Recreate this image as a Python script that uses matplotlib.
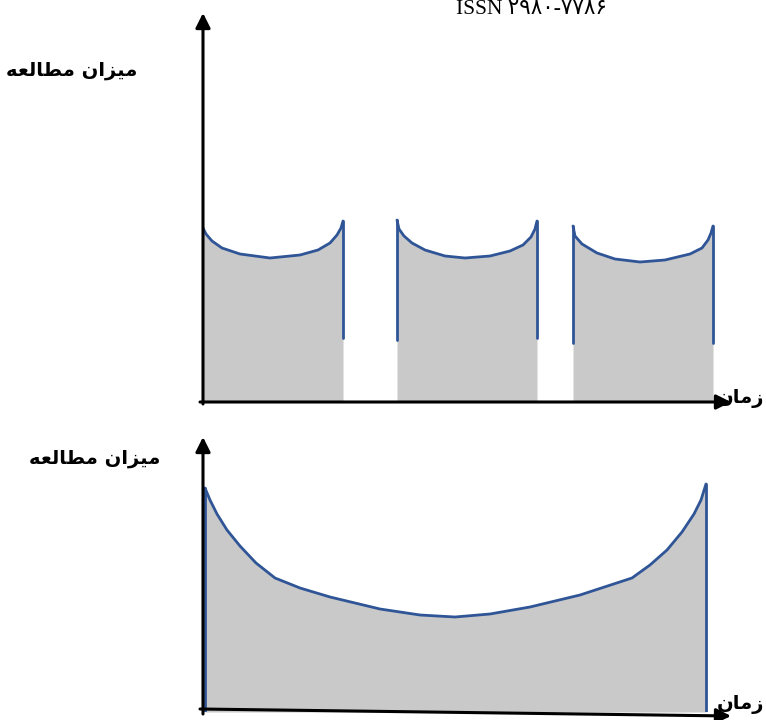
import matplotlib
matplotlib.use("Agg")
import matplotlib.pyplot as plt

W, H = 766, 720

# reading level over time, three short study sessions (top panel)
s1_t = [0, 0.6, 1.8, 3.8, 7.4, 13.4, 19.4, 23, 25.4, 26.8, 27.6, 28]
s1_v = [34.8, 33.6, 32.2, 30.8, 29.6, 28.8, 29.4, 30.4, 31.8, 33.4, 34.8, 36.2]
s2_t = [38.8, 39.2, 40.2, 41.8, 44.4, 48.4, 52.4, 57.4, 61.4, 64, 65.6, 66.4, 66.8]
s2_v = [36.4, 34.6, 33.2, 31.8, 30.4, 29.2, 28.8, 29.2, 30.2, 31.4, 33, 34.6, 36.2]
s3_t = [74, 74.4, 75.8, 78.8, 82.4, 87.4, 92.4, 97.4, 99.8, 101, 101.6, 102]
s3_v = [35.2, 33.2, 31.6, 29.8, 28.6, 28, 28.4, 29.6, 30.8, 32.4, 33.8, 35.2]
# where the blue side edges stop (value at the lower end)
s_edge_low = [(None, 12.8), (12.4, 12.8), (11.8, 11.8)]

# one long session (bottom panel)
long_t = [0.4, 1.4, 2.8, 4.8, 7.4, 10.6, 14.4, 19.4, 25.4, 35.4, 43.4, 50.4,
          57.4, 65.4, 75.4, 85.8, 89.4, 92.8, 95.8, 98.2, 99.6, 100.6]
long_v = [44.8, 42.4, 39.6, 36.4, 33.2, 29.8, 26.8, 24.8, 23, 20.6, 19.4, 19,
          19.6, 21, 23.4, 26.8, 29.4, 32.4, 36, 39.6, 42.4, 45.6]

y_label = "\uFEEA\uFECC\uFEDF\uFE8E\uFEC4\uFEE3 \uFEE5\uFE8D\uFEB0\uFEF4\uFEE3"   # میزان مطالعه
x_label = "\uFEE5\uFE8E\uFEE3\uFEAF"   # زمان
header = "ISSN \u06f2\u06f9\u06f8\u06f0-\u06f7\u06f7\u06f8\u06f6"

BLUE = "#2f5597"
GREY = "#c9c9c9"
fa = "DejaVu Sans"


def panel(fig, left, bottom, right, top):
    # axes placed in pixel units, 5 px per data unit
    ax = fig.add_axes([left / W, (H - bottom) / H, (right - left) / W, (bottom - top) / H])
    ax.set_xlim(0, (right - left) / 5)
    ax.set_ylim(0, (bottom - top) / 5)
    ax.axis("off")
    return ax


def arrow(ax, start, tip):
    ax.annotate("", xy=tip, xytext=start, annotation_clip=False,
                arrowprops=dict(arrowstyle="-|>", lw=2.2, color="black",
                                mutation_scale=22, shrinkA=0, shrinkB=0))


def blue(ax, x, y):
    ax.plot(x, y, color=BLUE, lw=2, zorder=2,
            solid_capstyle="round", solid_joinstyle="round")


fig = plt.figure(figsize=(W / 100, H / 100), dpi=100)

# ---- top panel
ax1 = panel(fig, 203, 402, 733, 12)
sessions = [(s1_t, s1_v), (s2_t, s2_v), (s3_t, s3_v)]
for (t, v), (lo_l, lo_r) in zip(sessions, s_edge_low):
    ax1.fill_between(t, v, 0, color=GREY, lw=0, zorder=1)
    blue(ax1, t, v)
    if lo_l is not None:
        blue(ax1, [t[0], t[0]], [v[0], lo_l])
    blue(ax1, [t[-1], t[-1]], [v[-1], lo_r])
arrow(ax1, (0, -0.4), (0, 77.8))
arrow(ax1, (-0.6, 0), (105.6, 0))

# ---- bottom panel
ax2 = panel(fig, 203, 712, 733, 435)
ax2.fill_between(long_t, long_v, 0, color=GREY, lw=0, zorder=1)
blue(ax2, long_t, long_v)
blue(ax2, [long_t[0], long_t[0]], [long_v[0], 0])
blue(ax2, [long_t[-1], long_t[-1]], [long_v[-1], 0])
arrow(ax2, (0, -0.4), (0, 55))
arrow(ax2, (-0.6, 0.6), (105.6, -0.8))

# ---- texts
fig.text(532 / W, 1 - 10 / H, header, ha="center", va="center", fontsize=15.5,
         family=["Liberation Serif", "DejaVu Sans"])
fig.text(72 / W, 1 - 70 / H, y_label, ha="center", va="center", fontsize=14,
         fontweight="bold", family=fa)
fig.text(95 / W, 1 - 458 / H, y_label, ha="center", va="center", fontsize=14,
         fontweight="bold", family=fa)
fig.text(741 / W, 1 - 398 / H, x_label, ha="center", va="center", fontsize=14,
         fontweight="bold", family=fa)
fig.text(741 / W, 1 - 705 / H, x_label, ha="center", va="center", fontsize=14,
         fontweight="bold", family=fa)

fig.savefig("out.png", dpi=100)
